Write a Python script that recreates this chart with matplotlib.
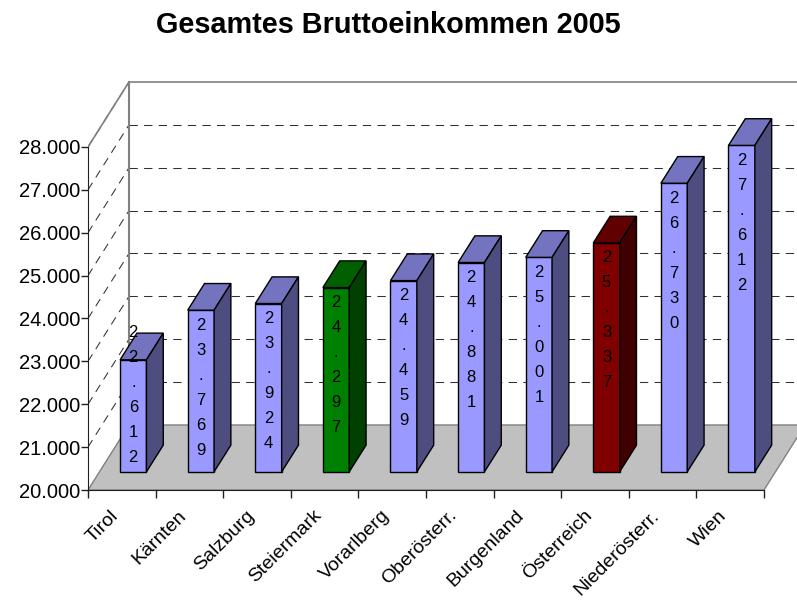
import matplotlib
matplotlib.use("Agg")
import matplotlib.pyplot as plt
from matplotlib.patches import Polygon
import numpy as np

plt.rcParams['font.family'] = ['Liberation Sans', 'DejaVu Sans']

# data
regions = ['Tirol', 'Kärnten', 'Salzburg', 'Steiermark', 'Vorarlberg',
           'Oberösterr.', 'Burgenland', 'Österreich', 'Niederösterr.', 'Wien']
einkommen = [22612, 23769, 23924, 24297, 24459, 24881, 25001, 25337, 26730, 27612]
y_ticks = list(range(20000, 28001, 1000))
title = 'Gesamtes Bruttoeinkommen 2005'

# (front, top, side) colours
blue = ('#9999FF', '#7373C0', '#4D4D80')
green = ('#008000', '#006000', '#004000')
red = ('#800000', '#600000', '#400000')
bar_colors = {'Steiermark': green, 'Österreich': red}

def fmt(v):
    return '{:,}'.format(v).replace(',', '.')

# 3d look: offset of the back wall in data units
BASE = 20000
DX = 0.6065
DY = 1516
W = 0.39
F0, F1 = 0.28, 0.69

fig = plt.figure(figsize=(7.97, 6.02), dpi=100)
ax = fig.add_axes([88 / 797, 112 / 602, 709 / 797, 440 / 602])
ax.set_xlim(0, 709 / 67.6)
ax.set_ylim(BASE, BASE + 440 / 0.04288)

for s in ['top', 'right']:
    ax.spines[s].set_visible(False)
ax.spines['left'].set_bounds(BASE, 28000)
ax.spines['bottom'].set_bounds(0, len(regions))
ax.spines['left'].set_color('#202020')
ax.spines['bottom'].set_color('#202020')

# floor
floor = Polygon([(0, BASE), (len(regions), BASE), (len(regions) + DX, BASE + DY), (DX, BASE + DY)],
                closed=True, fc='#C0C0C0', ec='#808080', lw=1, zorder=1)
ax.add_patch(floor)

# walls + grid
xmax = ax.get_xlim()[1]
for v in y_ticks[1:-1]:
    ax.plot([DX, xmax], [v + DY, v + DY], color='#303030', lw=0.75,
            ls=(0, (8, 6)), zorder=1.5)
for v in y_ticks[1:]:
    ax.plot([0, DX], [v, v + DY], color='#303030', lw=0.75,
            ls=(0, (8, 6)), zorder=1.5)
ax.plot([0, DX], [28000, 28000 + DY], color='#808080', lw=1.2, zorder=1.6)
ax.plot([DX, DX], [BASE + DY, 28000 + DY], color='#808080', lw=1.5, zorder=1.6)
ax.plot([DX, xmax], [28000 + DY, 28000 + DY], color='#808080', lw=1.2, zorder=1.6)

# bars
px_per_val = (ax.transData.transform((0, 1000))[1] - ax.transData.transform((0, 0))[1]) / 1000
step_px = 25
for i, (reg, v) in enumerate(zip(regions, einkommen)):
    fc, tc, sc = bar_colors.get(reg, blue)
    x0 = i + 0.5 - W / 2 + F0 * DX
    x1 = x0 + W
    y0 = BASE + F0 * DY
    y1 = v + F0 * DY
    ddx = (F1 - F0) * DX
    ddy = (F1 - F0) * DY
    front = [(x0, y0), (x1, y0), (x1, y1), (x0, y1)]
    top = [(x0, y1), (x1, y1), (x1 + ddx, y1 + ddy), (x0 + ddx, y1 + ddy)]
    side = [(x1, y0), (x1 + ddx, y0 + ddy), (x1 + ddx, y1 + ddy), (x1, y1)]
    for pts, c in [(front, fc), (top, tc), (side, sc)]:
        ax.add_patch(Polygon(pts, closed=True, fc=c, ec='black', lw=1, zorder=3))

    # stacked value label, one character per line
    lab = fmt(v)
    bar_h = (v - BASE) * px_per_val
    first = 15
    need = first + (len(lab) - 1) * step_px + 14
    if need > bar_h:
        first = bar_h - 14 - (len(lab) - 1) * step_px
    cx = (x0 + x1) / 2
    for k, ch in enumerate(lab):
        off = -(first + k * step_px) * 72 / 100
        ax.annotate(ch, (cx, y1), xytext=(0, off), textcoords='offset points',
                    ha='center', va='center', fontsize=12, color='black', zorder=4)

# axes ticks
ax.set_yticks(y_ticks)
ax.set_yticklabels([fmt(t) for t in y_ticks])
ax.tick_params(axis='y', length=5, width=1, labelsize=14.5, pad=0.5, color='#202020')
ax.set_xticks(np.arange(0, len(regions) + 1))
ax.set_xticklabels([])
ax.tick_params(axis='x', which='major', length=6, width=1, color='#202020')

# rotated category labels
for i, reg in enumerate(regions):
    ax.annotate(reg, (i + 0.5, BASE), xytext=(-4, -16.5), textcoords='offset points',
                rotation=45, ha='right', va='center', rotation_mode='anchor',
                fontsize=14, annotation_clip=False)

fig.text(0.487, 1 - 33 / 602, title, ha='center', va='baseline',
         fontsize=20.8, fontweight='bold')

fig.savefig('out.png', dpi=100)
